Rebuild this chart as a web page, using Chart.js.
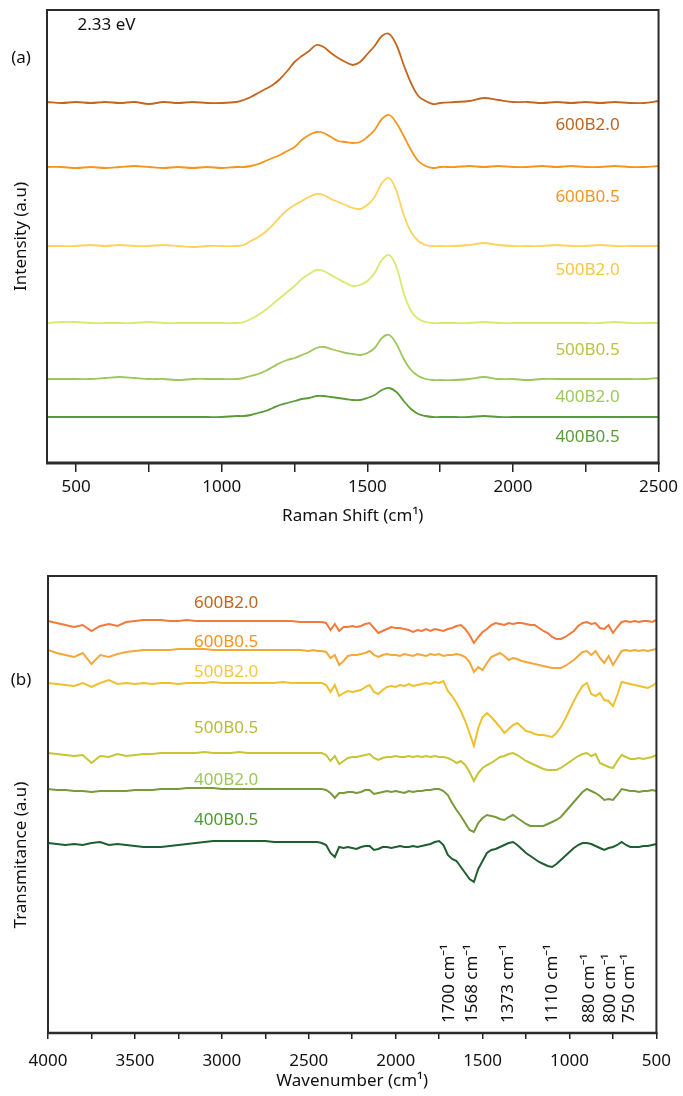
<!DOCTYPE html>
<html><head><meta charset="utf-8">
<script src="https://cdn.jsdelivr.net/npm/chart.js@4.4.1/dist/chart.umd.min.js"></script>
<style>html,body{margin:0;padding:0;background:#fff;}canvas{display:block;}</style>
</head><body>
<canvas id="c1" width="683" height="540"></canvas>
<canvas id="c2" width="683" height="556"></canvas>
<script>
// ---------- Panel (a): Raman ----------
const ramanShift = [400,450,500,550,600,650,700,750,800,850,900,950,1000,1050,
  1075,1100,1125,1150,1175,1200,1225,1250,1275,1300,1325,1350,1375,1400,1425,1450,1475,1500,1525,1550,1575,1600,1625,1650,1675,1700,1725,1750,
  1800,1850,1900,1950,2000,2050,2100,2150,2200,2250,2300,2350,2400,2450,2500];
const raman600B20 = [361,360,361,360,361,360,361,359,361,360,361,360,360,361,
  363,366,370,374,378,384,392,401,407,412,418,416,410,405,401,398,401,409,417,427,429,418,398,380,367,362,359,360,
  361,362,365,363,361,361,360,361,360,361,360,361,360,360,362];
const raman600B05 = [296,296,295,296,295,296,297,296,295,296,295,296,295,296,
  296,297,299,302,305,308,312,316,323,328,331,330,326,322,321,320,321,326,333,344,348,340,327,313,302,297,295,296,
  296,297,296,297,296,296,297,296,297,296,296,297,296,296,297];
const raman500B20 = [217,217,217,218,217,218,217,217,218,217,216,217,217,217,
  218,222,226,231,238,246,253,258,262,266,269,268,264,261,258,255,254,258,266,280,285,272,248,231,222,218,217,217,
  217,218,220,218,217,217,217,218,217,217,218,217,217,217,217];
const raman500B05 = [140,141,141,140,140,140,140,141,140,140,140,140,140,140,
  141,144,148,153,159,165,171,177,184,189,193,192,188,184,180,177,178,182,190,203,208,196,170,152,144,141,140,140,
  140,140,141,140,140,140,140,140,140,140,140,141,140,140,140];
const raman400B20 = [84,84,84,84,85,86,85,84,84,83,84,84,84,84,
  85,87,89,92,96,100,103,105,108,111,115,116,114,112,110,109,108,110,115,125,128,119,104,93,87,84,83,83,
  83,84,86,84,84,83,84,84,84,84,84,84,84,84,85];
const raman400B05 = [46,46,46,46,46,46,46,46,46,46,46,46,46,47,
  47,48,50,52,55,58,60,62,64,65,67,67,66,65,64,63,63,65,68,73,75,71,62,54,49,47,46,46,
  46,46,47,46,46,46,46,46,46,46,46,46,46,46,46];
const ramanTicks = [500,750,1000,1250,1500,1750,2000,2250,2500];
const sampleNames = ['600B2.0','600B0.5','500B2.0','500B0.5','400B2.0','400B0.5'];

// ---------- Panel (b): FTIR ----------
const wavenumber = [4000,3950,3900,3850,3800,3750,3700,3650,3600,3550,3500,3450,3400,3350,3300,3250,3200,3150,3100,3050,3000,2950,2900,2850,2800,2750,2700,2650,2600,2550,2500,
  2475,2450,2425,2400,2375,2350,2325,2300,2275,2250,
  2225,2200,2175,2150,2125,2100,2075,2050,2025,2000,
  1975,1950,1925,1900,1875,1850,1825,1800,1775,1750,
  1725,1700,1675,1650,1625,1600,1575,1550,1525,1500,
  1475,1450,1425,1400,1375,1350,1325,1300,1275,1250,
  1225,1200,1175,1150,1125,1100,1075,1050,1025,1000,
  975,950,925,900,875,850,825,800,775,750,
  725,700,675,650,625,600,575,550,525,500];
const ftir600B20 = [412,410,408,406,408,402,407,409,407,411,412,413,413,413,412,412,413,412,412,412,412,412,412,412,412,412,412,412,412,411,411,
  411,411,411,410,403,409,402,406,406,407,
  406,407,409,410,405,400,402,404,406,405,
  405,404,403,401,403,402,404,402,404,403,
  402,404,405,407,408,404,398,390,396,401,
  404,408,410,409,408,410,409,410,410,409,
  408,408,405,402,400,396,394,394,396,399,
  402,407,410,411,409,410,405,404,408,400,
  406,411,412,411,412,411,412,412,411,413];
const ftir600B05 = [383,380,378,376,380,369,378,376,379,381,382,383,383,383,383,384,384,384,384,383,383,383,383,383,383,383,383,383,383,383,382,
  383,382,382,381,375,378,368,372,377,378,
  378,379,380,382,378,376,378,379,378,378,
  377,379,378,377,379,378,377,379,378,379,
  377,378,378,379,378,376,371,361,366,363,
  370,376,378,380,377,373,375,374,372,371,
  370,369,368,367,366,365,365,365,367,370,
  373,377,381,382,378,382,375,370,377,368,
  375,382,383,382,383,382,383,382,383,384];
const ftir500B20 = [350,349,348,347,350,346,350,353,349,350,349,350,349,350,350,349,350,350,350,351,350,350,350,350,350,350,350,351,350,350,350,
  350,350,350,348,341,348,337,340,342,341,
  342,343,346,348,341,339,343,346,347,346,
  348,347,349,347,348,349,350,349,351,350,
  352,342,337,330,322,312,300,287,305,316,
  320,316,311,306,300,304,308,310,306,302,
  301,299,298,298,297,296,300,306,314,323,
  332,340,347,350,339,337,340,333,332,327,
  338,351,350,349,348,347,346,345,347,350];
const ftir500B05 = [280,279,278,277,278,270,277,276,279,277,278,279,279,280,280,280,280,280,281,280,280,280,281,280,280,280,280,280,280,280,280,
  280,280,280,278,272,277,269,272,275,276,
  276,277,278,279,275,273,275,276,276,277,
  276,276,277,276,277,276,277,276,277,276,
  276,275,273,270,272,268,261,252,260,265,
  268,270,273,276,277,279,280,278,275,272,
  270,268,266,264,263,263,263,265,268,271,
  274,277,279,280,277,279,270,268,266,265,
  272,278,276,274,274,275,274,275,276,278];
const ftir400B20 = [244,243,243,242,242,241,242,242,242,242,243,243,243,244,244,244,245,245,245,245,244,244,244,244,244,244,244,244,244,244,244,
  244,244,244,243,240,235,240,240,241,241,
  240,241,243,243,239,240,241,242,241,242,
  241,240,242,241,242,242,243,243,244,244,
  242,238,230,223,217,210,203,201,210,215,
  218,217,216,214,213,216,218,215,212,209,
  207,207,207,207,209,211,213,216,221,226,
  231,236,241,244,242,240,237,233,234,233,
  238,244,243,242,242,241,242,242,243,242];
const ftir400B05 = [190,189,188,189,188,190,191,188,189,188,187,186,186,186,187,188,189,190,191,192,192,192,192,192,192,192,191,191,191,191,191,
  191,191,190,188,180,176,186,185,186,185,
  184,186,187,187,183,184,186,186,185,186,
  187,186,186,187,186,187,188,189,191,192,
  188,178,174,172,166,160,154,151,164,172,
  180,183,184,186,188,190,191,188,184,180,
  177,174,171,169,167,166,169,173,177,181,
  185,188,190,190,189,187,185,183,185,186,
  188,191,188,186,186,186,187,187,188,189];
const ftirTicks = [4000,3750,3500,3250,3000,2750,2500,2250,2000,1750,1500,1250,1000,750,500];
const bandLabels = ['1700 cm\u207B\u00B9','1568 cm\u207B\u00B9','1373 cm\u207B\u00B9','1110 cm\u207B\u00B9','880 cm\u207B\u00B9','800 cm\u207B\u00B9','750 cm\u207B\u00B9'];
const bandPositions = [1700,1568,1373,1110,880,800,750];

// ---------- styles ----------
const FONT = "'Noto Sans', 'Open Sans', 'DejaVu Sans', sans-serif";
const ramanLineColors = ['#c4661f','#f7941d','#fdd35c','#d8ea6e','#9dc75a','#5a9b35'];
const ramanLabelColors = ['#c0651e','#f7941d','#f5c842','#bcc243','#9cc95a','#5a9e35'];
const ftirLineColors = ['#f37a3a','#f4a83a','#efc02e','#c5c535','#789a3a','#1f5e30'];
const ftirLabelColors = ['#c0651e','#f7941d','#f5c842','#b5bd3a','#9dc75a','#4e9a2e'];
const ramanLabelPos = {x: 2256, y: [338,266,193,113,66,26]};
const ftirLabelPos = {x: 2975, y: [430,391,361,305,253,213]};
const bandNudge = [1,1,3,2,-1,6,16];

Chart.defaults.font.family = FONT;
Chart.defaults.font.size = 17;
Chart.defaults.color = '#111';

const ramanSeries = [raman600B20, raman600B05, raman500B20, raman500B05, raman400B20, raman400B05];
const ftirSeries = [ftir600B20, ftir600B05, ftir500B20, ftir500B05, ftir400B20, ftir400B05];

function makeFrame(bottomWidth) {
  return {
    id: 'frame',
    afterDatasetsDraw(chart) {
      const {ctx, chartArea: a} = chart;
      ctx.save();
      ctx.strokeStyle = '#2b2b2b';
      ctx.lineWidth = 2;
      ctx.strokeRect(a.left, a.top, a.right - a.left, a.bottom - a.top);
      ctx.lineWidth = bottomWidth;
      ctx.beginPath();
      ctx.moveTo(a.left - 1, a.bottom);
      ctx.lineTo(a.right + 1, a.bottom);
      ctx.stroke();
      ctx.restore();
    }
  };
}

function rotatedText(ctx, text, x, y, align) {
  ctx.save();
  ctx.translate(x, y);
  ctx.rotate(-Math.PI / 2);
  ctx.textAlign = align;
  ctx.textBaseline = 'middle';
  ctx.fillText(text, 0, 0);
  ctx.restore();
}

const ramanText = {
  id: 'ramanText',
  afterDraw(chart) {
    const {ctx, chartArea: a} = chart;
    const xs = chart.scales.x, ys = chart.scales.y;
    ctx.save();
    ctx.font = '17px ' + FONT;
    ctx.textBaseline = 'middle';
    ctx.textAlign = 'center';
    sampleNames.forEach((n, i) => {
      ctx.fillStyle = ramanLabelColors[i];
      ctx.fillText(n, xs.getPixelForValue(ramanLabelPos.x), ys.getPixelForValue(ramanLabelPos.y[i]));
    });
    ctx.fillStyle = '#111';
    ctx.textAlign = 'left';
    ctx.fillText('2.33 eV', xs.getPixelForValue(505), ys.getPixelForValue(438));
    ctx.textAlign = 'center';
    ctx.fillText('(a)', 21, 58);
    rotatedText(ctx, 'Intensity (a.u)', 21, (a.top + a.bottom) / 2, 'center');
    ctx.restore();
  }
};

const ftirText = {
  id: 'ftirText',
  afterDraw(chart) {
    const {ctx, chartArea: a} = chart;
    const xs = chart.scales.x, ys = chart.scales.y;
    ctx.save();
    ctx.font = '17px ' + FONT;
    ctx.textBaseline = 'middle';
    ctx.textAlign = 'center';
    sampleNames.forEach((n, i) => {
      ctx.fillStyle = ftirLabelColors[i];
      ctx.fillText(n, xs.getPixelForValue(ftirLabelPos.x), ys.getPixelForValue(ftirLabelPos.y[i]));
    });
    ctx.fillStyle = '#111';
    ctx.fillText('(b)', 21, 140);
    rotatedText(ctx, 'Transmitance (a.u)', 21, 315, 'center');
    bandLabels.forEach((t, i) => {
      rotatedText(ctx, t, xs.getPixelForValue(bandPositions[i]) + bandNudge[i], a.bottom - 10, 'left');
    });
    ctx.restore();
  }
};

function xAxis(min, max, ticks, reverse, tickLen, pad, titleText, titlePadBottom, height) {
  return {
    type: 'linear', min, max, reverse,
    afterBuildTicks: s => { s.ticks = ticks.map(v => ({value: v})); },
    afterFit: s => { s.height = height; },
    ticks: {
      padding: pad, maxRotation: 0, autoSkip: false, color: '#111',
      font: {size: 17},
      callback: v => (v % 500 === 0 ? String(v) : '')
    },
    grid: {display: true, drawOnChartArea: false, drawTicks: true, tickLength: tickLen, color: '#222', lineWidth: 1.5},
    border: {display: false},
    title: {display: true, text: titleText, color: '#111', font: {size: 17}, padding: {top: 0, bottom: titlePadBottom}}
  };
}

function yAxis(max, width) {
  return {
    type: 'linear', min: 0, max,
    afterFit: s => { s.width = width; },
    ticks: {display: false},
    grid: {display: false},
    border: {display: false}
  };
}

new Chart(document.getElementById('c1'), {
  type: 'line',
  data: {
    datasets: ramanSeries.map((vals, i) => ({
      label: sampleNames[i],
      data: ramanShift.map((x, j) => ({x, y: vals[j]})),
      borderColor: ramanLineColors[i],
      borderWidth: 1.8,
      pointRadius: 0,
      tension: 0.35,
      fill: false
    }))
  },
  options: {
    responsive: false, animation: false, devicePixelRatio: 1,
    layout: {padding: {top: 10, right: 20, left: 0, bottom: 0}},
    plugins: {legend: {display: false}, tooltip: {enabled: false}},
    scales: {
      x: xAxis(400, 2500, ramanTicks, false, 9, 5, 'Raman Shift (cm\u00B9)', 14, 77),
      y: yAxis(453, 47)
    }
  },
  plugins: [makeFrame(3), ramanText]
});

new Chart(document.getElementById('c2'), {
  type: 'line',
  data: {
    datasets: ftirSeries.map((vals, i) => ({
      label: sampleNames[i],
      data: wavenumber.map((x, j) => ({x, y: vals[j]})),
      borderColor: ftirLineColors[i],
      borderWidth: 2,
      pointRadius: 0,
      tension: 0,
      fill: false
    }))
  },
  options: {
    responsive: false, animation: false, devicePixelRatio: 1,
    layout: {padding: {top: 36, right: 20, left: 0, bottom: 0}},
    plugins: {legend: {display: false}, tooltip: {enabled: false}},
    scales: {
      x: xAxis(500, 4000, ftirTicks, true, 6, 12, 'Wavenumber (cm\u00B9)', 5, 63),
      y: yAxis(457, 48)
    }
  },
  plugins: [makeFrame(2.5), ftirText]
});
</script>
</body></html>
